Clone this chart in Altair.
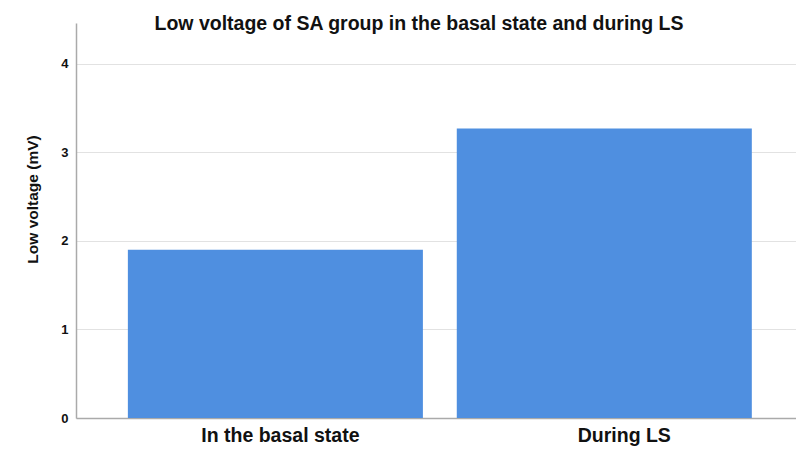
import altair as alt
import pandas as pd

categories = ["In the basal state", "During LS"]
values = [1.90, 3.27]

df = pd.DataFrame({"cat": categories, "val": values})

FONT = "Liberation Sans, Arial, Helvetica"

chart = alt.Chart(df).mark_bar(color="#4f8fe0").encode(
    x=alt.X("cat:N", sort=categories,
            scale=alt.Scale(paddingInner=0.103, paddingOuter=0.146, align=0.54),
            axis=alt.Axis(title=None, labelAngle=0, labelFont=FONT, labelFontSize=19.5,
                          labelFontWeight="bold", labelColor="#111",
                          labelOffset=alt.ExprRef("datum.value == 'During LS' ? 20 : 5"),
                          labelPadding=8, labelLimit=400, ticks=False,
                          domainColor="#aaaaaa", domainWidth=1.5, grid=False)),
    y=alt.Y("val:Q", scale=alt.Scale(domain=[0, 4.46], nice=False),
            axis=alt.Axis(title="Low voltage (mV)", values=[0, 1, 2, 3, 4],
                          titleFont=FONT, titleFontSize=15.5, titleFontWeight="bold",
                          titleColor="#111", titleY=176, titleX=-44,
                          titleBaseline="middle",
                          labelFont=FONT, labelFontSize=13, labelFontWeight="bold",
                          labelColor="#111", labelPadding=8, ticks=False,
                          domainColor="#aaaaaa", domainWidth=1.5,
                          gridColor="#e2e2e2", gridWidth=1.2)),
).properties(
    width=720, height=395,
    autosize=alt.AutoSizeParams(type="none"),
    padding={"left": 76, "top": 23, "right": 0, "bottom": 31},
    title=alt.TitleParams("Low voltage of SA group in the basal state and during LS",
                          font=FONT, fontSize=19.5, fontWeight="bold", color="#111",
                          anchor="middle", frame="group", dx=-17, offset=-11),
).configure_view(stroke=None)

chart.save("out.html", embed_options={"renderer": "svg", "actions": False})
